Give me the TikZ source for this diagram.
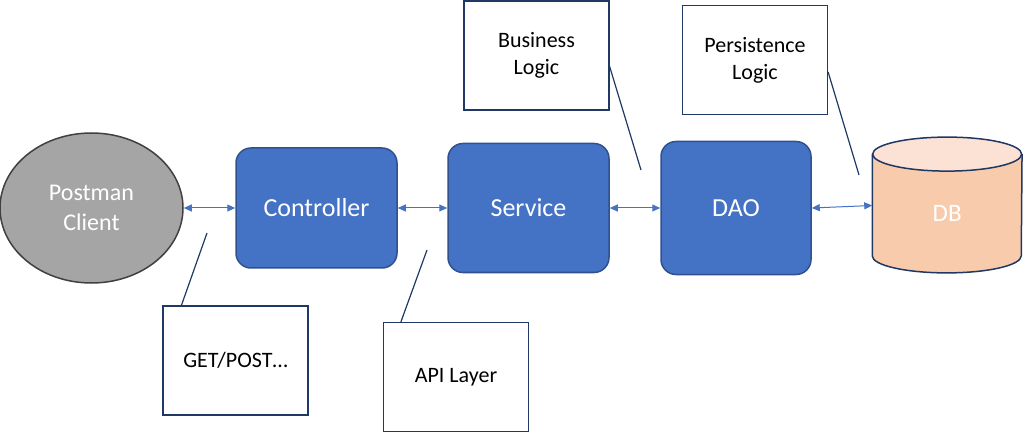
\documentclass[tikz,border=0pt]{standalone}
\usepackage{fontspec}
\setmainfont{Carlito}
\usepackage{xcolor}
\usetikzlibrary{positioning,arrows.meta,shapes.geometric,backgrounds}
\definecolor{boxblue}{HTML}{4472C4}
\definecolor{boxedge}{HTML}{2F528F}
\definecolor{navy}{HTML}{203864}
\definecolor{clientgray}{HTML}{A5A5A5}
\definecolor{dbbody}{HTML}{F8CBAD}
\definecolor{dbtop}{HTML}{FBE2D5}

\begin{document}
\begin{tikzpicture}[
    every node/.style={align=center, inner sep=2pt},
    layer/.style={rectangle, draw=boxedge, line width=0.75pt, rounded corners=7.5pt,
                  fill=boxblue, text=white, font=\fontsize{13}{15}\selectfont},
    client/.style={ellipse, draw=black!75, line width=0.75pt, fill=clientgray,
                   text=white, font=\fontsize{12}{15.3}\selectfont,
                   minimum width=91.5pt, minimum height=75pt},
    store/.style={rectangle, text=white, font=\fontsize{12.5}{15}\selectfont,
                  minimum width=74.5pt, minimum height=59pt},
    note/.style={rectangle, draw=navy, line width=0.6pt, fill=white,
                 minimum width=72.5pt, minimum height=54.5pt,
                 font=\fontsize{11}{13.5}\selectfont},
    link/.style={{Triangle[length=4pt,width=3.5pt]}-{Triangle[length=4pt,width=3.5pt]},
                 boxblue, line width=0.5pt},
    pointer/.style={navy, line width=0.6pt},
  ]
    \useasboundingbox (0,0) rectangle (512pt,-216.5pt);

    \node[client] at (45.75pt,-104pt)                        (cl)   {Postman\\Client};
    \node[layer, minimum width=80.5pt, minimum height=60pt,
          right=25.75pt of cl]                               (ctrl) {Controller};
    \node[layer, minimum width=80.5pt, minimum height=64.5pt,
          right=24.75pt of ctrl]                             (svc)  {Service};
    \node[layer, minimum width=75pt, minimum height=66.5pt,
          right=25.25pt of svc]                              (dao)  {DAO};
    \node[store, right=30.25pt of dao, yshift=-2.75pt]       (db)   {DB};

    \begin{scope}[on background layer]
      \fill[dbbody] (db.north west) -- ([yshift=8.5pt]db.south west)
        arc[start angle=180, end angle=360, x radius=37.25pt, y radius=8.5pt]
        -- (db.north east) -- cycle;
      \draw[navy, line width=0.75pt] (db.north west) -- ([yshift=8.5pt]db.south west)
        arc[start angle=180, end angle=360, x radius=37.25pt, y radius=8.5pt]
        -- (db.north east);
      \filldraw[fill=dbtop, draw=navy, line width=0.75pt]
        (db.north) ellipse[x radius=37.25pt, y radius=8.5pt];
    \end{scope}

    \draw[link] (cl)   -- (ctrl);
    \draw[link] (ctrl) -- (svc);
    \draw[link] (svc)  -- (dao);
    \draw[link] (dao.east) -- ([yshift=4pt]db.west);

    \node[note] at (117.75pt,-180.25pt) (get)  {GET/POST\ldots};
    \node[note] at (228pt,-188.5pt)     (api)  {API Layer};
    \node[note] at (268.25pt,-27.75pt)  (biz)  {Business\\Logic};
    \node[note] at (377.5pt,-30pt)      (pers) {Persistence\\Logic};

    \coordinate (gettip)  at (103.5pt,-116.5pt);
    \coordinate (apitip)  at (213.5pt,-125pt);
    \coordinate (biztip)  at (320.5pt,-85pt);
    \coordinate (perstip) at (429.5pt,-87.5pt);

    \draw[pointer] ([xshift=9.5pt]get.north west) -- (gettip);
    \draw[pointer] ([xshift=9pt]api.north west)   -- (apitip);
    \draw[pointer] ([yshift=-33pt]biz.north east)   -- (biztip);
    \draw[pointer] ([yshift=-33.5pt]pers.north east) -- (perstip);
  \end{tikzpicture}
\end{document}
